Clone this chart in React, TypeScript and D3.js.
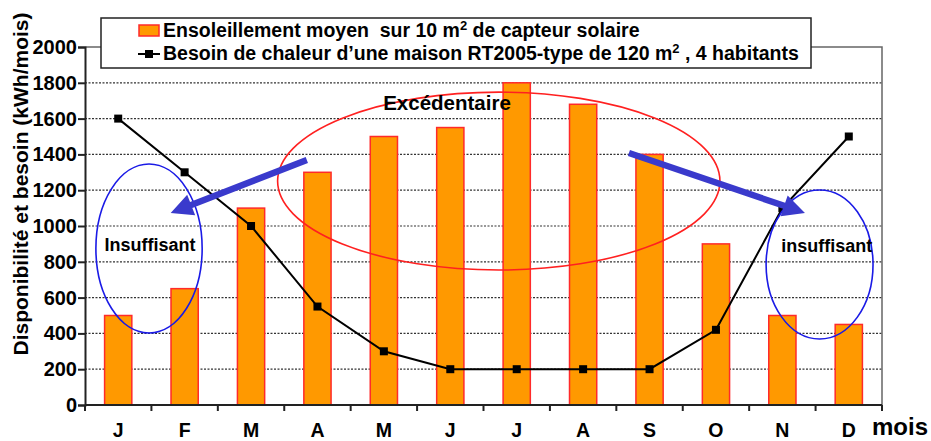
import React, { useRef, useEffect } from 'react';
import * as d3 from 'd3';

// months and the two series
const months = ['J', 'F', 'M', 'A', 'M', 'J', 'J', 'A', 'S', 'O', 'N', 'D'];
const sunshine = [500, 650, 1100, 1300, 1500, 1550, 1800, 1680, 1400, 900, 500, 450];
const heatNeed = [1600, 1300, 1000, 550, 300, 200, 200, 200, 200, 420, 1100, 1500];
const yTicks = [0, 200, 400, 600, 800, 1000, 1200, 1400, 1600, 1800, 2000];

const App = () => {
  const chartRef = useRef<SVGSVGElement | null>(null);

  useEffect(() => {
    if (!chartRef.current) return;
    const svg = d3.select(chartRef.current);
    svg.selectAll('*').remove();

    const W = 931;
    const H = 441;
    const margin = { top: 47, right: 49, bottom: 36, left: 85 };
    const width = W - margin.left - margin.right;
    const height = H - margin.top - margin.bottom;
    const font = 'Liberation Sans, Arial, sans-serif';

    const x = d3.scaleBand<number>().domain(d3.range(months.length)).range([0, width]).paddingInner(0.59).paddingOuter(0.295);
    const y = d3.scaleLinear().domain([0, 2000]).range([height, 0]);
    // continuous month position, used for the annotations
    const xm = d3.scaleLinear().domain([0, 12]).range([0, width]);

    const g = svg.append('g').attr('transform', `translate(${margin.left},${margin.top})`);

    // gridlines
    g.selectAll('.grid')
      .data(yTicks.filter(d => d > 0 && d < 2000))
      .join('line')
      .attr('x1', 0)
      .attr('x2', width)
      .attr('y1', d => y(d))
      .attr('y2', d => y(d))
      .attr('stroke', '#333')
      .attr('stroke-width', 1.2)
      .attr('stroke-dasharray', '2,1.5');

    // top and right frame
    g.append('path')
      .attr('d', `M0,0H${width}V${height}`)
      .attr('fill', 'none')
      .attr('stroke', '#666')
      .attr('stroke-width', 1.5);

    // bars
    g.selectAll('.bar')
      .data(sunshine)
      .join('rect')
      .attr('x', (d, i) => x(i)!)
      .attr('y', d => y(d))
      .attr('width', x.bandwidth())
      .attr('height', d => height - y(d))
      .attr('fill', '#ff9900')
      .attr('stroke', '#ff2a2a')
      .attr('stroke-width', 1.5);

    // axes
    const yAxis = d3.axisLeft(y).tickValues(yTicks).tickFormat(d3.format('d')).tickSize(7).tickPadding(1);
    const ya = g.append('g').call(yAxis);
    ya.select('.domain').attr('stroke', '#222').attr('stroke-width', 2);
    ya.selectAll('.tick line').attr('stroke', '#222').attr('stroke-width', 2);
    ya.selectAll('.tick text')
      .attr('font-family', font)
      .attr('font-size', 20)
      .attr('font-weight', 'bold')
      .attr('fill', '#000');

    const xa = g.append('g').attr('transform', `translate(0,${height})`);
    xa.append('line').attr('x1', 0).attr('x2', width).attr('stroke', '#222').attr('stroke-width', 2);
    xa.selectAll('.xt')
      .data(d3.range(months.length + 1))
      .join('line')
      .attr('x1', d => xm(d))
      .attr('x2', d => xm(d))
      .attr('y1', 0)
      .attr('y2', 6)
      .attr('stroke', '#222')
      .attr('stroke-width', 2);
    xa.selectAll('.xl')
      .data(months)
      .join('text')
      .attr('x', (d, i) => x(i)! + x.bandwidth() / 2)
      .attr('y', 32)
      .attr('text-anchor', 'middle')
      .attr('font-family', font)
      .attr('font-size', 19.5)
      .attr('font-weight', 'bold')
      .text(d => d);

    svg.append('text')
      .attr('x', 872)
      .attr('y', 435)
      .attr('font-family', font)
      .attr('font-size', 24)
      .attr('font-weight', 'bold')
      .text('mois');

    // y title
    svg.append('text')
      .attr('transform', `translate(28,184) rotate(-90)`)
      .attr('text-anchor', 'middle')
      .attr('font-family', font)
      .attr('font-size', 21)
      .attr('font-weight', 'bold')
      .text('Disponibilité et besoin (kWh/mois)');

    // heat need line
    const line = d3
      .line<number>()
      .x((d, i) => x(i)! + x.bandwidth() / 2)
      .y(d => y(d));
    g.append('path')
      .datum(heatNeed)
      .attr('d', line)
      .attr('fill', 'none')
      .attr('stroke', '#000')
      .attr('stroke-width', 2);
    g.selectAll('.pt')
      .data(heatNeed)
      .join('rect')
      .attr('x', (d, i) => x(i)! + x.bandwidth() / 2 - 4)
      .attr('y', d => y(d) - 4)
      .attr('width', 8)
      .attr('height', 8)
      .attr('fill', '#000');

    // annotations
    const ellipse = (cx: number, cy: number, rx: number, ry: number, color: string) =>
      g.append('ellipse')
        .attr('cx', xm(cx))
        .attr('cy', y(cy))
        .attr('rx', xm(rx))
        .attr('ry', height - y(ry))
        .attr('fill', 'none')
        .attr('stroke', color)
        .attr('stroke-width', 1.6);
    ellipse(6.23, 1251, 3.33, 497, '#ff2020');
    ellipse(0.964, 874, 0.8, 472, '#1a1ae6');
    ellipse(11.06, 785, 0.805, 416, '#1a1ae6');

    const label = (cx: number, cy: number, t: string, size: number) =>
      g.append('text')
        .attr('x', xm(cx))
        .attr('y', y(cy))
        .attr('text-anchor', 'middle')
        .attr('dominant-baseline', 'central')
        .attr('font-family', font)
        .attr('font-size', size)
        .attr('font-weight', 'bold')
        .text(t);
    label(5.45, 1690, 'Excédentaire', 20.5);
    label(0.98, 894, 'Insuffisant', 18);
    label(11.17, 888, 'insuffisant', 18);

    const arrow = (x1: number, y1: number, x2: number, y2: number) => {
      const px1 = xm(x1), py1 = y(y1), px2 = xm(x2), py2 = y(y2);
      const ang = Math.atan2(py2 - py1, px2 - px1);
      const headLen = 22, headW = 11, shaft = 3.2;
      const bx = px2 - headLen * Math.cos(ang), by = py2 - headLen * Math.sin(ang);
      const nx = -Math.sin(ang), ny = Math.cos(ang);
      const pts = [
        [px1 + nx * shaft, py1 + ny * shaft],
        [bx + nx * shaft, by + ny * shaft],
        [bx + nx * headW, by + ny * headW],
        [px2, py2],
        [bx - nx * headW, by - ny * headW],
        [bx - nx * shaft, by - ny * shaft],
        [px1 - nx * shaft, py1 - ny * shaft],
      ];
      g.append('polygon')
        .attr('points', pts.map(p => p.join(',')).join(' '))
        .attr('fill', '#3a3acc');
    };
    arrow(3.34, 1369, 1.29, 1073);
    arrow(8.19, 1408, 10.84, 1073);

    // legend
    const lg = svg.append('g');
    lg.append('rect')
      .attr('x', 101)
      .attr('y', 18)
      .attr('width', 710)
      .attr('height', 50)
      .attr('fill', '#fff')
      .attr('stroke', '#222')
      .attr('stroke-width', 1.5);
    lg.append('rect')
      .attr('x', 139)
      .attr('y', 25)
      .attr('width', 20)
      .attr('height', 11)
      .attr('fill', '#ff9900')
      .attr('stroke', '#ff2a2a')
      .attr('stroke-width', 1.5);
    lg.append('line').attr('x1', 138).attr('x2', 160).attr('y1', 54).attr('y2', 54).attr('stroke', '#000').attr('stroke-width', 2);
    lg.append('rect').attr('x', 145).attr('y', 50).attr('width', 8).attr('height', 8).attr('fill', '#000');

    const t1 = lg.append('text')
      .attr('x', 163)
      .attr('y', 37)
      .attr('font-family', font)
      .attr('font-size', 19.5)
      .attr('font-weight', 'bold')
      .attr('xml:space', 'preserve');
    t1.append('tspan').text('Ensoleillement moyen  sur 10 m');
    t1.append('tspan').attr('dy', -7).attr('font-size', 13).text('2');
    t1.append('tspan').attr('dy', 7).text(' de capteur solaire');

    const t2 = lg.append('text')
      .attr('x', 163)
      .attr('y', 60)
      .attr('font-family', font)
      .attr('font-size', 19.5)
      .attr('font-weight', 'bold');
    t2.append('tspan').text('Besoin de chaleur d’une maison RT2005-type de 120 m');
    t2.append('tspan').attr('dy', -7).attr('font-size', 13).text('2');
    t2.append('tspan').attr('dy', 7).text(' , 4 habitants');
  }, []);

  return <svg ref={chartRef} width={931} height={441} style={{ position: 'absolute', left: 0, top: 0 }} />;
};

export default App;
